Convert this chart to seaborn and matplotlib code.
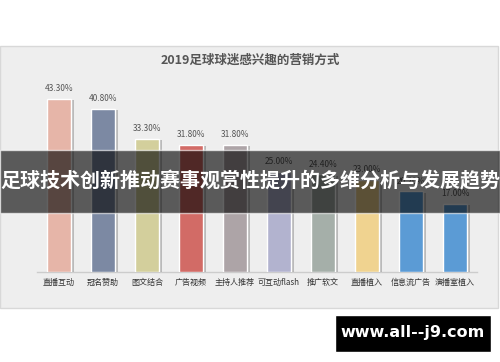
import matplotlib
matplotlib.use("Agg")
import matplotlib.pyplot as plt
import matplotlib.patheffects as pe
from matplotlib.patches import Rectangle
import seaborn as sns
import pandas as pd

categories = ["直播互动", "冠名赞助", "图文结合", "广告视频", "主持人推荐",
              "可互动flash", "推广软文", "直播植入", "信息流广告", "演播室植入"]
values = [43.3, 40.8, 33.3, 31.8, 31.8, 25.0, 24.4, 23.0, 20.2, 17.0]
colors = ["#E6B5A8", "#7C89A3", "#D3CF9C", "#D26B66", "#ADA4A7",
          "#B2B3CF", "#A5AFA9", "#F0D390", "#5B9BD5", "#5B9BD5"]
title = "2019足球球迷感兴趣的营销方式"
banner = "足球技术创新推动赛事观赏性提升的多维分析与发展趋势"
watermark = "www.all--j9.com"

df = pd.DataFrame({"方式": categories, "比例": values})

sns.set_style("white")
plt.rcParams["font.family"] = ["Noto Sans CJK SC", "DejaVu Sans"]

W, H = 500, 362
fig = plt.figure(figsize=(W / 100, H / 100), dpi=100)
fig.patch.set_facecolor("white")

# grey chart panel (behind the axes)
fig.patches.append(Rectangle((0, (H - 308) / H), 498 / W, 262 / H, transform=fig.transFigure,
                             facecolor="#EEEEEE", edgecolor="#D8D8D8", lw=1, zorder=-5))

ax = fig.add_axes([37 / W, (H - 272) / H, 440 / W, 200 / H])
ax.set_facecolor("none")
sns.barplot(data=df, x="方式", y="比例", hue="方式", palette=colors, legend=False,
            width=0.55, saturation=1, ax=ax, zorder=3)
for p in ax.patches:
    p.set_path_effects([pe.SimplePatchShadow(offset=(2, -1), shadow_rgbFace="#888888", alpha=0.5), pe.Normal()])
for c in ax.containers:
    ax.bar_label(c, fmt="{:.2f}%", padding=4, fontsize=6, color="#555555")

ax.set_xlim(-0.5, 9.5)
ax.set_ylim(0, 50)
ax.set_xlabel("")
ax.set_ylabel("")
ax.set_yticks([])
ax.tick_params(axis="x", length=0, pad=4, labelsize=5.8, labelcolor="#333333")
for s in ["top", "left", "right"]:
    ax.spines[s].set_visible(False)
ax.spines["bottom"].set_color("#CCCCCC")
ax.spines["bottom"].set_linewidth(1)

fig.text(250 / W, (H - 60) / H, title, ha="center", va="center", fontsize=9,
         color="#555555", fontweight="bold")

# dark banner across the middle
fig.patches.append(Rectangle((0, (H - 213) / H), 1, 63 / H, transform=fig.transFigure,
                             facecolor="black", alpha=0.62, zorder=10))
fig.text(250 / W, (H - 181) / H, banner, ha="center", va="center", fontsize=14.4,
         color="white", fontweight="bold", zorder=11)

# watermark box
fig.patches.append(Rectangle((335 / W, (H - 352) / H), 156 / W, 37 / H, transform=fig.transFigure,
                             facecolor="black", zorder=10))
fig.text(413 / W, (H - 333) / H, watermark, ha="center", va="center", fontsize=11.5,
         color="white", fontweight="bold", family="DejaVu Sans", zorder=11)

fig.savefig("out.png", dpi=100)
